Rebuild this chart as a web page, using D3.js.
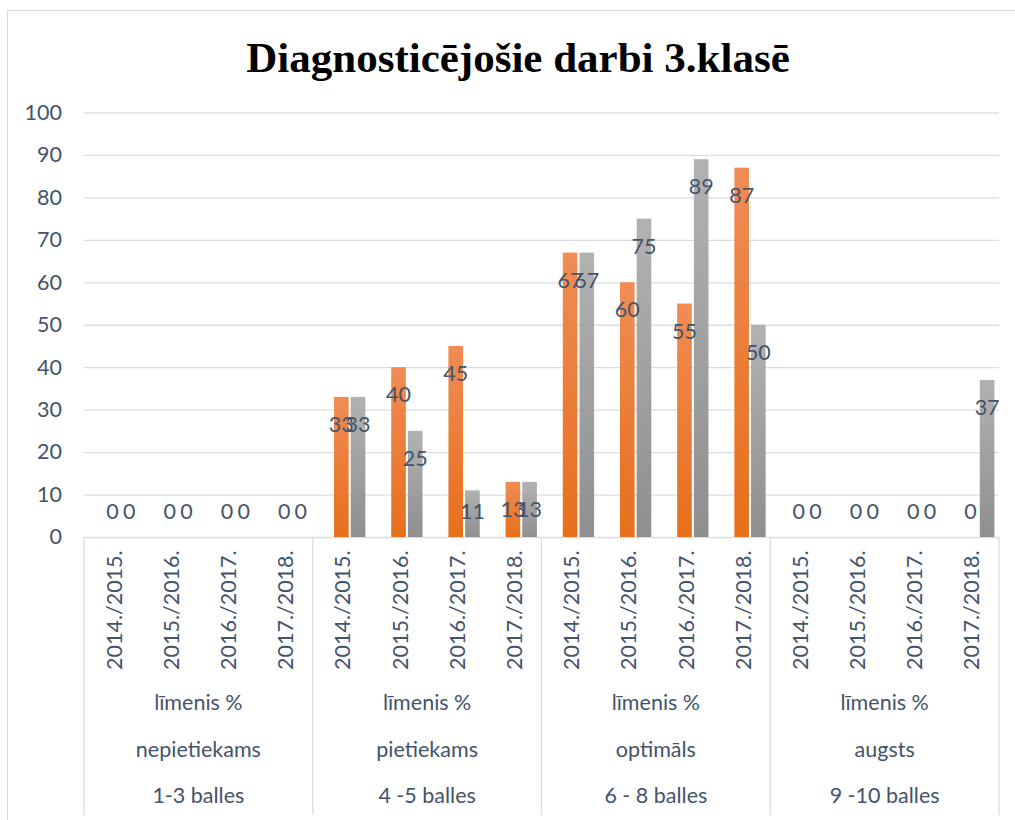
<!DOCTYPE html>
<html>
<head>
<meta charset="utf-8">
<script src="https://cdn.jsdelivr.net/npm/d3@7"></script>
<style>
    body { margin: 0; background: #fff; }
    svg { display: block; font-family: Lato, "Open Sans", sans-serif; }
</style>
</head>
<body>
<svg id="chart" width="1015" height="820"></svg>
<script>
// Chart data
const years = ['2014./2015.', '2015./2016.', '2016./2017.', '2017./2018.'];
const levelPrefix = 'līmenis %';
const levelNames = ['nepietiekams', 'pietiekams', 'optimāls', 'augsts'];
const levelPoints = ['1-3 balles', '4 -5 balles', '6 - 8 balles', '9 -10 balles'];
const seriesOrange = [0, 0, 0, 0, 33, 40, 45, 13, 67, 60, 55, 87, 0, 0, 0, 0];
const seriesGray = [0, 0, 0, 0, 33, 25, 11, 13, 67, 75, 89, 50, 0, 0, 0, 37];
const yTicks = [0, 10, 20, 30, 40, 50, 60, 70, 80, 90, 100];

// Layout
const plot = { left: 84, right: 999, top: 112.5, bottom: 537, axisBottom: 815 };
const textColor = '#44546a';
const gridColor = '#dadee4';

const svg = d3.select('#chart');

// Gradients for the bars
const defs = svg.append('defs');
const addGradient = (id, top, bottom) => {
    const g = defs.append('linearGradient')
        .attr('id', id)
        .attr('x1', 0).attr('y1', 0)
        .attr('x2', 0).attr('y2', 1);
    g.append('stop').attr('offset', '0%').attr('stop-color', top);
    g.append('stop').attr('offset', '100%').attr('stop-color', bottom);
};
addGradient('grad-orange', '#f08c55', '#e76f1b');
addGradient('grad-gray', '#b2b2b2', '#8f8f8f');

// Outer chart border
svg.append('rect')
    .attr('x', 7.5).attr('y', 10.5)
    .attr('width', 1030).attr('height', 830)
    .attr('fill', 'none')
    .attr('stroke', '#d9d9d9');

// Title
svg.append('text')
    .attr('x', 518)
    .attr('y', 72)
    .attr('text-anchor', 'middle')
    .attr('font-family', '"Liberation Serif", "Times New Roman", serif')
    .attr('font-weight', 'bold')
    .attr('font-size', 43)
    .attr('fill', '#000')
    .text('Diagnosticējošie darbi 3.klasē');

// Flattened category list: one entry per (level, year)
const categories = [];
levelNames.forEach((lvl, i) => {
    years.forEach(y => categories.push({ level: i, year: y, key: i + '|' + y }));
});

// Scales
const x = d3.scaleBand()
    .domain(categories.map(d => d.key))
    .range([plot.left, plot.right]);

const xLevel = d3.scaleBand()
    .domain(levelNames)
    .range([plot.left, plot.right]);

// three series slots per category; the first slot is an empty series
const xSeries = d3.scaleBand()
    .domain(['empty', 'orange', 'gray'])
    .range([-8 - 16 - x.bandwidth() / 2 + x.bandwidth() / 2, 8 + 16])
    .paddingInner(2 / 16);

const y = d3.scaleLinear()
    .domain([0, 100])
    .range([plot.bottom, plot.top]);

// Gridlines + y tick labels
const yAxis = svg.append('g')
    .attr('transform', `translate(${plot.left},0)`)
    .call(d3.axisLeft(y)
        .tickValues(yTicks)
        .tickSize(-(plot.right - plot.left))
        .tickPadding(22));
yAxis.select('.domain').remove();
yAxis.selectAll('.tick line')
    .attr('stroke', gridColor)
    .attr('stroke-width', 1.3);
yAxis.selectAll('.tick text')
    .attr('fill', textColor)
    .attr('font-size', 21.5)
    .attr('font-family', 'Lato, sans-serif');

// Category axis box
const axisG = svg.append('g');
d3.range(levelNames.length + 1).forEach(i => {
    const xx = plot.left + i * xLevel.step();
    axisG.append('line')
        .attr('x1', xx).attr('x2', xx)
        .attr('y1', plot.bottom).attr('y2', plot.axisBottom)
        .attr('stroke', gridColor)
        .attr('stroke-width', 1.3);
});

// Year labels (rotated)
const xAxis = svg.append('g')
    .attr('transform', `translate(0,670)`)
    .call(d3.axisBottom(x)
        .tickSize(0)
        .tickFormat(k => k.split('|')[1]));
xAxis.select('.domain').remove();
xAxis.selectAll('.tick text')
    .attr('transform', 'rotate(-90)')
    .attr('text-anchor', 'start')
    .attr('x', 0)
    .attr('y', 0)
    .attr('dy', '0.42em')
    .attr('fill', textColor)
    .attr('font-size', 21.5)
    .attr('font-family', 'Lato, sans-serif');

// Level labels
const levelG = svg.append('g')
    .attr('fill', textColor)
    .attr('font-size', 21.5)
    .attr('text-anchor', 'middle');
levelNames.forEach((name, i) => {
    const cx = xLevel(name) + xLevel.bandwidth() / 2;
    levelG.append('text').attr('x', cx).attr('y', 710).text(levelPrefix);
    levelG.append('text').attr('x', cx).attr('y', 757).text(name);
    levelG.append('text').attr('x', cx).attr('y', 803).text(levelPoints[i]);
});

// Bars
const series = [
    { name: 'orange', values: seriesOrange, fill: 'url(#grad-orange)' },
    { name: 'gray', values: seriesGray, fill: 'url(#grad-gray)' }
];

const barX = (s, i) => x(categories[i].key) + x.bandwidth() / 2 + xSeries(s.name);

series.forEach(s => {
    svg.append('g')
        .selectAll('rect')
        .data(s.values)
        .join('rect')
        .attr('x', (d, i) => barX(s, i))
        .attr('y', d => y(d))
        .attr('width', xSeries.bandwidth())
        .attr('height', d => y(0) - y(d))
        .attr('fill', s.fill);
});

// Data labels, inside end of the bar, kept above the baseline
series.forEach(s => {
    svg.append('g')
        .selectAll('text')
        .data(s.values)
        .join('text')
        .attr('x', (d, i) => barX(s, i) + xSeries.bandwidth() / 2)
        .attr('y', d => Math.min(y(d) + 27.5, y(0) - 26))
        .attr('dy', '0.35em')
        .attr('text-anchor', 'middle')
        .attr('fill', textColor)
        .attr('font-size', 21.5)
        .text(d => d);
});
</script>
</body>
</html>
